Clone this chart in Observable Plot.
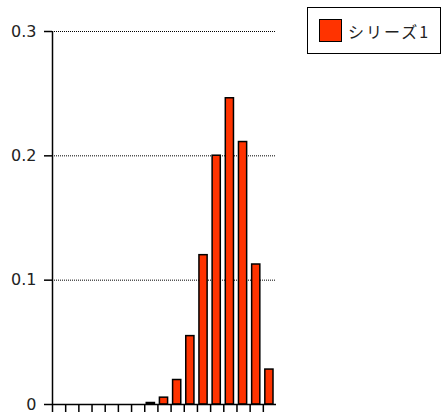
<!DOCTYPE html>
<html>
<head>
<meta charset="utf-8">
<script src="https://cdn.jsdelivr.net/npm/d3@7"></script>
<script src="https://cdn.jsdelivr.net/npm/@observablehq/plot@0.6"></script>
<style>
  html, body { margin: 0; padding: 0; background: #fff; }
  #wrap { position: relative; width: 443px; height: 414px; overflow: hidden; }
  #legend {
    position: absolute; left: 307px; top: 7px; width: 132px; height: 45px;
    border: 1px solid #000; background: #fff; box-sizing: content-box;
    font-family: "Noto Sans CJK JP", "DejaVu Sans", sans-serif; font-size: 16px; color: #222;
    letter-spacing: 2px;
    display: flex; align-items: center;
  }
  #legend .sw { width: 21px; height: 21px; border: 1px solid #000; margin-left: 11px; margin-right: 6px; }
</style>
</head>
<body>
<div id="wrap"></div>
<script>
const categories = [0, 1, 2, 3, 4, 5, 6, 7, 8, 9, 10, 11, 12, 13, 14, 15, 16];
const values = [0, 0, 0, 0, 0, 0, 0, 0.0012, 0.0055, 0.0197, 0.055, 0.1201, 0.2001, 0.2463, 0.2111, 0.1126, 0.0281];
const yTicks = [0, 0.1, 0.2, 0.3];
const yLabels = ["0", "0.1", "0.2", "0.3"];
const seriesName = "シリーズ1";
const barColor = "#ff3300";

const data = categories.map((k, i) => ({k, p: values[i]}));

const chart = Plot.plot({
  width: 443,
  height: 414,
  marginLeft: 52,
  marginRight: 167,
  marginTop: 31,
  marginBottom: 10,
  style: {fontFamily: "DejaVu Sans, sans-serif", fontSize: "16px", color: "#222", background: "#fff"},
  x: {type: "linear", domain: [0, categories.length], axis: null},
  y: {domain: [0, 0.3], axis: null},
  marks: [
    Plot.gridY(yTicks.slice(1), {stroke: "#000", strokeOpacity: 1, strokeWidth: 1, strokeDasharray: "1,1"}),
    Plot.rectY(data, {x: "k", y: "p", interval: 1, insetLeft: 2, insetRight: 3, fill: barColor, stroke: "#000", strokeWidth: 1.5}),
    Plot.ruleY([0], {stroke: "#000", strokeWidth: 1.5}),
    Plot.ruleX([0], {stroke: "#000", strokeWidth: 1.5}),
    Plot.axisY(yTicks, {anchor: "left", label: null, tickSize: 8, tickPadding: 8, strokeWidth: 1.5, stroke: "#000", tickFormat: (d, i) => yLabels[i]}),
    Plot.axisX(categories, {anchor: "bottom", label: null, tickSize: 8, strokeWidth: 1.5, stroke: "#000", tickFormat: () => ""})
  ]
});

const wrap = document.getElementById("wrap");
wrap.appendChild(chart);
const legend = document.createElement("div");
legend.id = "legend";
const sw = document.createElement("div");
sw.className = "sw";
sw.style.background = barColor;
const label = document.createElement("span");
label.textContent = seriesName;
legend.appendChild(sw);
legend.appendChild(label);
wrap.appendChild(legend);
</script>
</body>
</html>
